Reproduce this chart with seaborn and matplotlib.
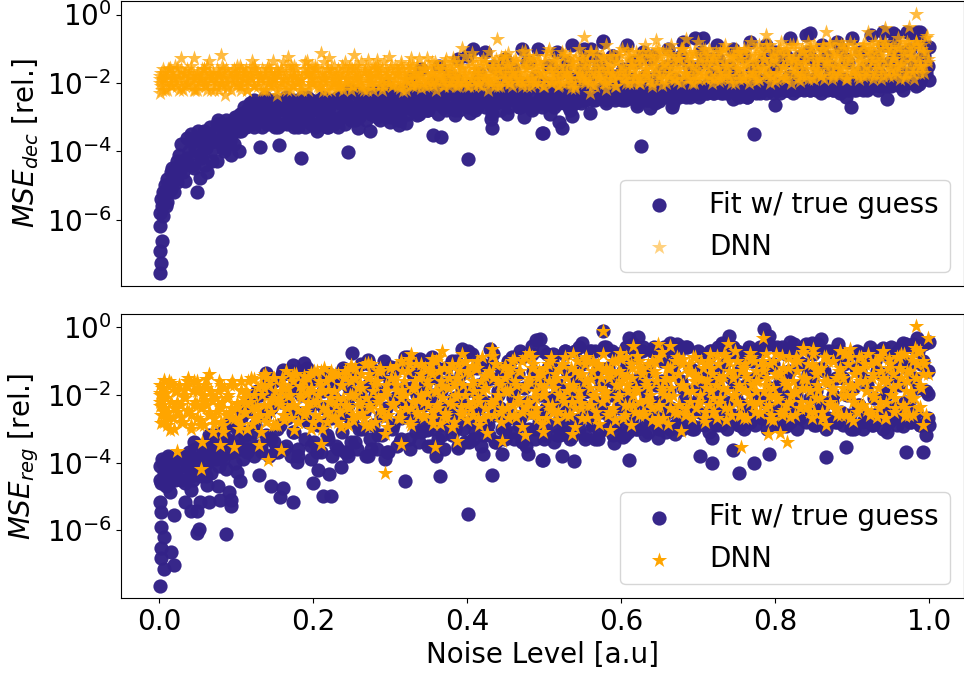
import numpy as np
import matplotlib
matplotlib.use("Agg")
import matplotlib.pyplot as plt
import seaborn as sns

# noise levels shared by the main band of every series
noise = [
 .002,.004,.006,.009,.012,.015,.019,.023,.028,.033,
 .037,.041,.046,.049,.053,.058,.061,.065,.069,.072,
 .077,.080,.083,.088,.092,.095,.101,.104,.107,.112,
 .116,.121,.124,.127,.133,.136,.140,.145,.148,.151,
 .157,.160,.163,.168,.173,.176,.180,.183,.189,.192,
 .197,.200,.205,.208,.212,.217,.220,.223,.229,.232,
 .236,.241,.244,.248,.252,.255,.261,.264,.268,.273,
 .276,.281,.284,.287,.293,.296,.301,.304,.308,.313,
 .316,.320,.325,.328,.333,.336,.341,.344,.348,.353,
 .356,.361,.364,.368,.372,.377,.380,.385,.388,.392,
 .397,.400,.405,.408,.413,.416,.421,.424,.428,.433,
 .436,.441,.444,.449,.452,.456,.461,.464,.469,.472,
 .477,.480,.484,.489,.492,.497,.500,.505,.508,.512,
 .517,.520,.525,.528,.533,.536,.540,.545,.548,.553,
 .556,.561,.564,.569,.572,.577,.580,.585,.588,.592,
 .597,.600,.605,.608,.613,.616,.621,.624,.629,.632,
 .636,.641,.644,.648,.653,.656,.661,.664,.668,.673,
 .676,.681,.684,.689,.692,.696,.701,.704,.709,.712,
 .717,.720,.725,.728,.732,.737,.740,.745,.748,.753,
 .756,.761,.764,.768,.773,.776,.781,.784,.789,.792,
 .797,.800,.804,.809,.812,.817,.820,.825,.828,.833,
 .836,.840,.845,.848,.853,.856,.861,.864,.869,.872,
 .876,.881,.884,.889,.892,.897,.900,.905,.908,.912,
 .917,.920,.925,.928,.933,.936,.941,.944,.948,.953,
 .956,.961,.964,.969,.972,.977,.980,.984,.989,.992,
]
noise_b = [
 .001,.003,.005,.008,.010,.013,.016,.018,.021,.024,
 .026,.029,.031,.034,.036,.039,.042,.044,.047,.050,
 .051,.054,.056,.059,.060,.063,.066,.068,.070,.074,
 .075,.078,.081,.082,.085,.087,.090,.093,.097,.099,
 .102,.105,.106,.109,.110,.113,.115,.118,.120,.123,
 .125,.129,.131,.134,.138,.139,.142,.143,.146,.149,
 .150,.153,.155,.158,.161,.165,.166,.170,.171,.174,
 .175,.178,.181,.185,.186,.190,.193,.194,.198,.199,
 .201,.203,.206,.210,.213,.215,.218,.221,.224,.225,
 .227,.230,.233,.235,.238,.239,.242,.245,.247,.249,
 .251,.254,.257,.258,.260,.263,.266,.269,.271,.274,
 .275,.278,.280,.283,.285,.289,.290,.292,.295,.298,
 .300,.303,.306,.309,.310,.314,.315,.318,.321,.323,
 .326,.329,.330,.334,.335,.338,.340,.343,.346,.349,
 .350,.354,.355,.358,.360,.363,.366,.369,.370,.373,
 .375,.378,.381,.383,.386,.389,.390,.393,.395,.398,
 .401,.403,.406,.409,.410,.414,.415,.418,.420,.423,
 .425,.429,.431,.434,.435,.438,.440,.443,.446,.448,
 .450,.453,.455,.458,.460,.463,.466,.468,.471,.474,
 .475,.478,.481,.483,.486,.488,.490,.493,.495,.499,
 .501,.503,.506,.509,.510,.513,.515,.518,.521,.523,
 .526,.529,.530,.534,.535,.538,.541,.543,.546,.549,
 .550,.554,.555,.558,.560,.563,.566,.568,.570,.574,
 .575,.578,.581,.583,.586,.589,.590,.593,.595,.598,
 .601,.603,.606,.609,.610,.614,.615,.618,.620,.623,
 .625,.628,.631,.633,.635,.638,.640,.643,.646,.649,
 .650,.654,.655,.658,.660,.663,.665,.669,.670,.674,
 .675,.678,.680,.683,.686,.688,.690,.694,.695,.698,
 .700,.703,.706,.708,.710,.714,.715,.718,.721,.723,
 .726,.729,.730,.734,.735,.738,.741,.743,.746,.749,
 .751,.754,.755,.758,.760,.763,.766,.769,.770,.774,
 .775,.778,.780,.783,.786,.788,.790,.794,.795,.798,
 .801,.803,.806,.808,.810,.814,.815,.818,.821,.823,
 .826,.829,.830,.834,.835,.838,.841,.843,.846,.849,
 .851,.854,.855,.858,.860,.863,.866,.868,.870,.874,
 .875,.878,.880,.883,.886,.888,.890,.894,.895,.898,
 .901,.903,.906,.909,.910,.914,.915,.918,.921,.923,
 .926,.929,.930,.934,.935,.938,.940,.943,.946,.949,
 .951,.954,.955,.958,.960,.963,.966,.968,.970,.974,
 .975,.978,.981,.983,.986,.988,.990,.994,.996,.999,
]

# log10 of the relative MSE
dec_fit = [
 -6.2,-5.6,-5.3,-5.6,-5.0,-5.1,-4.7,-4.9,-4.3,-4.4,
 -4.2,-3.7,-4.5,-3.6,-4.1,-3.4,-3.9,-3.5,-4.3,-3.7,
 -3.1,-3.6,-3.9,-3.2,-3.7,-3.5,-3.0,-3.4,-2.9,-3.3,
 -3.0,-2.6,-3.3,-2.8,-3.1,-2.5,-3.2,-2.7,-2.9,-3.3,
 -2.6,-3.2,-2.8,-2.5,-3.0,-2.7,-3.3,-2.6,-2.9,-2.4,
 -3.2,-2.7,-3.4,-2.5,-3.0,-2.8,-3.3,-2.6,-3.1,-2.4,
 -3.0,-2.5,-2.9,-2.2,-2.7,-3.1,-2.4,-2.8,-2.6,-2.3,
 -2.9,-2.3,-2.7,-3.1,-2.5,-2.1,-3.0,-2.6,-2.4,-3.1,
 -2.8,-2.2,-2.6,-1.9,-2.7,-2.4,-1.6,-2.5,-2.8,-2.1,
 -2.0,-2.6,-1.5,-2.4,-2.7,-1.8,-2.3,-2.8,-1.3,-2.5,
 -2.6,-1.2,-2.3,-1.0,-2.7,-1.7,-2.2,-1.1,-2.6,-2.9,
 -2.3,-1.6,-2.5,-1.3,-2.9,-2.1,-1.8,-2.4,-2.7,-1.0,
 -2.5,-1.4,-2.8,-2.1,-1.0,-2.7,-2.4,-1.5,-2.9,-2.2,
 -1.1,-2.6,-2.3,-1.6,-2.7,-0.9,-2.4,-2.0,-2.6,-1.3,
 -2.4,-1.0,-2.5,-2.2,-1.5,-0.8,-2.6,-2.3,-1.2,-2.5,
 -2.2,-1.7,-2.5,-0.9,-2.3,-1.4,-2.6,-2.1,-1.1,-2.5,
 -2.4,-1.2,-2.6,-2.2,-1.6,-2.4,-1.0,-2.3,-2.6,-1.3,
 -2.2,-0.8,-2.4,-1.5,-2.3,-0.7,-2.4,-1.1,-2.2,-2.3,
 -1.3,-2.3,-0.9,-2.2,-2.3,-1.6,-2.1,-1.0,-2.3,-2.4,
 -1.2,-2.2,-2.4,-0.8,-2.1,-1.5,-2.3,-2.2,-0.9,-2.1,
 -2.3,-1.1,-2.2,-2.0,-1.4,-2.2,-0.7,-2.1,-2.2,-1.2,
 -2.1,-0.6,-2.2,-1.3,-2.1,-2.2,-0.9,-2.1,-2.0,-1.5,
 -2.2,-0.8,-2.3,-2.1,-1.3,-2.2,-0.7,-2.2,-2.0,-1.1,
 -2.1,-2.2,-0.6,-2.0,-1.4,-2.1,-0.5,-1.9,-2.1,-1.0,
 -0.6,-1.9,-1.3,-2.0,-0.5,-1.8,-2.0,-0.5,-1.7,-1.2,
]
dec_fit_b = [
 -5.8,-5.4,-5.2,-5.0,-4.8,-5.2,-4.6,-4.9,-4.5,-4.3,
 -4.1,-3.8,-4.6,-4.3,-3.6,-4.0,-3.5,-4.4,-3.9,-3.7,
 -3.4,-4.2,-3.6,-3.8,-4.4,-3.5,-3.3,-4.0,-3.7,-3.4,
 -3.2,-3.7,-3.3,-3.6,-4.0,-3.1,-3.5,-3.2,-3.8,-3.0,
 -3.1,-2.9,-3.4,-3.0,-2.7,-3.3,-2.8,-2.6,-3.2,-2.5,
 -2.9,-3.1,-2.6,-3.3,-2.4,-2.8,-3.0,-2.7,-3.2,-2.5,
 -3.1,-2.8,-3.3,-2.6,-2.9,-2.4,-3.2,-3.0,-2.7,-2.5,
 -3.3,-2.6,-2.9,-3.1,-2.4,-3.3,-2.7,-3.0,-2.5,-2.8,
 -3.2,-3.3,-2.6,-2.9,-2.4,-3.1,-3.3,-2.7,-3.0,-2.5,
 -3.2,-2.8,-3.3,-2.6,-3.0,-2.4,-3.2,-2.7,-2.9,-3.1,
 -2.5,-2.9,-2.3,-2.7,-3.0,-2.4,-2.8,-3.1,-2.6,-2.3,
 -2.7,-2.9,-2.4,-3.0,-2.6,-2.2,-2.8,-2.5,-3.0,-2.3,
 -2.7,-2.9,-2.4,-2.6,-3.1,-2.2,-2.8,-2.5,-2.3,-2.9,
 -2.6,-2.3,-2.8,-2.1,-2.5,-2.9,-2.4,-2.7,-2.2,-2.6,
 -2.8,-2.3,-2.6,-2.0,-2.5,-2.9,-2.2,-2.7,-2.4,-2.8,
 -2.1,-2.6,-2.3,-2.7,-1.9,-2.5,-2.8,-2.2,-2.6,-2.4,
 -2.7,-2.1,-2.5,-2.3,-2.8,-1.8,-2.6,-2.2,-2.4,-2.7,
 -2.0,-2.5,-2.7,-1.5,-2.3,-2.6,-2.1,-2.8,-2.4,-1.7,
 -2.6,-2.2,-2.7,-2.4,-1.6,-2.5,-2.3,-2.7,-2.0,-2.6,
 -2.3,-1.4,-2.6,-2.1,-2.7,-2.4,-1.8,-2.5,-2.2,-2.6,
 -2.4,-2.0,-2.6,-1.5,-2.3,-2.7,-2.1,-2.5,-1.7,-2.4,
 -2.6,-2.2,-1.4,-2.5,-2.3,-1.9,-2.6,-2.4,-2.1,-2.5,
 -1.6,-2.3,-2.5,-2.1,-2.4,-1.8,-2.5,-2.2,-1.3,-2.4,
 -2.3,-2.1,-2.5,-1.7,-2.4,-2.2,-1.2,-2.4,-2.0,-2.3,
 -2.5,-1.6,-2.3,-2.1,-2.4,-1.9,-2.2,-2.5,-1.4,-2.3,
 -2.1,-2.4,-1.8,-2.3,-2.5,-1.3,-2.2,-2.4,-2.0,-2.3,
 -1.7,-2.4,-2.2,-2.3,-1.5,-2.4,-2.1,-2.3,-1.9,-2.2,
 -2.4,-1.2,-2.3,-2.1,-2.2,-1.8,-2.3,-2.2,-1.6,-2.3,
 -2.1,-2.3,-1.4,-2.2,-2.3,-2.0,-2.2,-1.7,-2.3,-2.1,
 -1.3,-2.2,-2.3,-1.9,-2.1,-2.3,-1.5,-2.2,-2.0,-2.3,
 -1.8,-2.2,-2.1,-2.3,-1.2,-2.2,-2.0,-2.3,-1.6,-2.2,
 -2.3,-1.9,-2.1,-2.2,-1.3,-2.3,-2.1,-1.7,-2.2,-2.0,
 -1.5,-2.2,-2.3,-2.0,-2.1,-1.2,-2.2,-1.8,-2.1,-2.3,
 -2.0,-1.4,-2.2,-2.1,-1.7,-2.2,-2.0,-1.1,-2.2,-2.1,
 -1.9,-2.2,-1.5,-2.1,-2.3,-2.0,-1.2,-2.2,-1.8,-2.1,
 -2.2,-1.6,-2.0,-2.2,-1.0,-2.1,-1.9,-2.2,-1.4,-2.1,
 -2.0,-2.2,-1.7,-2.1,-1.1,-2.0,-2.2,-1.5,-2.1,-1.9,
 -2.1,-1.2,-2.0,-2.2,-1.7,-2.0,-0.9,-2.1,-1.9,-1.4,
 -2.1,-1.8,-0.8,-2.0,-1.5,-2.1,-1.9,-1.1,-2.0,-1.7,
 -1.0,-1.9,-1.4,-2.1,-1.6,-0.8,-1.9,-1.2,-1.7,-1.5,
]
dec_dnn = [
 -1.90,-2.20,-1.70,-2.00,-1.60,-2.10,-1.85,-1.55,-2.15,-1.75,
 -2.05,-1.65,-2.20,-1.80,-1.95,-1.60,-2.10,-1.70,-1.90,-2.20,
 -1.75,-2.00,-1.60,-2.15,-1.85,-1.65,-2.05,-1.80,-2.20,-1.70,
 -1.95,-1.55,-2.10,-1.75,-1.90,-2.20,-1.60,-1.85,-2.00,-1.70,
 -2.15,-1.65,-1.90,-1.50,-2.05,-1.80,-1.95,-2.20,-1.60,-1.75,
 -2.00,-1.70,-1.55,-2.15,-1.85,-1.95,-1.60,-2.10,-1.75,-1.90,
 -2.05,-1.60,-1.85,-1.50,-2.10,-1.70,-1.95,-2.15,-1.65,-1.80,
 -2.00,-1.55,-1.80,-2.10,-1.65,-1.90,-1.50,-2.05,-1.75,-2.15,
 -1.60,-1.90,-1.45,-2.05,-1.70,-1.85,-2.15,-1.55,-1.95,-1.70,
 -2.05,-1.50,-1.80,-1.95,-1.40,-2.10,-1.65,-1.85,-2.00,-1.55,
 -1.75,-2.10,-1.40,-1.90,-1.60,-2.05,-1.30,-1.80,-1.95,-1.50,
 -2.10,-1.60,-1.25,-1.85,-1.45,-2.00,-1.70,-1.35,-1.90,-2.10,
 -1.55,-1.20,-1.85,-2.00,-1.40,-1.70,-2.10,-1.10,-1.60,-1.90,
 -1.35,-2.05,-1.70,-1.15,-1.85,-1.50,-2.15,-1.25,-1.75,-1.95,
 -1.40,-1.10,-2.05,-1.60,-1.85,-1.25,-1.95,-1.45,-1.75,-2.10,
 -1.20,-1.65,-1.90,-1.05,-1.50,-2.00,-1.35,-1.80,-1.10,-1.60,
 -1.95,-1.25,-1.70,-1.05,-2.05,-1.45,-1.85,-1.15,-1.60,-1.95,
 -1.30,-1.00,-1.75,-1.50,-2.00,-1.15,-1.65,-1.90,-1.05,-1.40,
 -1.85,-1.20,-1.60,-1.95,-1.05,-1.50,-1.80,-1.25,-2.00,-1.10,
 -1.55,-1.85,-1.00,-1.40,-1.70,-1.95,-1.15,-1.55,-0.90,-1.75,
 -1.30,-1.95,-1.05,-1.60,-1.85,-1.20,-0.90,-1.70,-1.45,-1.95,
 -1.10,-1.60,-0.95,-1.85,-1.30,-1.65,-1.00,-1.90,-1.40,-0.85,
 -1.75,-1.15,-1.55,-0.90,-1.90,-1.25,-1.65,-1.05,-1.80,-1.35,
 -0.85,-1.70,-1.15,-1.90,-1.40,-0.80,-1.60,-1.00,-1.80,-1.30,
 -1.65,-0.95,-1.45,-1.85,-0.80,-1.25,-1.70,-0.90,-1.50,-1.10,
]
dec_dnn_b = [
 -1.8,-2.1,-1.6,-1.9,-2.2,-1.7,-2.0,-1.8,-1.5,-2.1,
 -1.9,-1.6,-2.2,-1.7,-2.0,-1.8,-1.5,-2.1,-1.9,-2.2,
 -1.7,-2.0,-1.6,-1.8,-2.1,-1.5,-1.9,-2.2,-1.7,-2.0,
 -1.6,-1.8,-2.1,-1.5,-1.9,-2.0,-1.7,-2.2,-1.6,-1.8,
 -2.0,-1.5,-2.1,-1.7,-1.9,-1.6,-2.2,-1.8,-2.0,-1.5,
 -1.7,-2.1,-1.9,-1.6,-1.8,-2.2,-1.5,-2.0,-1.7,-1.9,
 -2.1,-1.6,-1.8,-2.0,-1.4,-1.9,-2.2,-1.7,-1.5,-2.1,
 -1.8,-1.6,-2.0,-1.9,-2.2,-1.4,-1.7,-2.1,-1.8,-1.5,
 -2.0,-1.6,-1.9,-2.1,-1.7,-1.4,-2.2,-1.8,-1.6,-2.0,
 -1.5,-1.9,-2.1,-1.7,-1.8,-2.2,-1.4,-2.0,-1.6,-1.9,
 -2.1,-1.5,-1.8,-1.7,-2.0,-1.4,-2.2,-1.6,-1.9,-1.8,
 -2.1,-1.5,-2.0,-1.7,-1.6,-1.9,-2.2,-1.4,-1.8,-2.0,
 -1.6,-2.1,-1.5,-1.9,-1.7,-2.0,-1.4,-1.8,-2.2,-1.6,
 -1.9,-1.5,-2.1,-1.7,-2.0,-1.3,-1.8,-1.6,-2.1,-1.9,
 -1.5,-2.0,-1.7,-1.4,-2.2,-1.8,-1.6,-1.9,-2.1,-1.3,
 -1.7,-2.0,-1.5,-1.8,-2.1,-1.4,-1.9,-1.6,-2.0,-1.2,
 -1.8,-2.1,-1.5,-1.7,-1.3,-2.0,-1.9,-1.6,-2.1,-1.4,
 -1.8,-1.1,-2.0,-1.6,-1.9,-1.3,-2.1,-1.7,-1.5,-2.0,
 -1.2,-1.8,-1.6,-2.1,-1.4,-1.9,-1.7,-2.0,-1.1,-1.5,
 -1.8,-2.1,-1.3,-1.9,-1.6,-2.0,-1.2,-1.7,-1.5,-2.1,
 -1.4,-1.9,-1.0,-1.7,-2.0,-1.3,-1.6,-2.1,-1.8,-1.1,
 -1.5,-2.0,-1.7,-1.2,-1.9,-1.4,-2.1,-1.6,-1.0,-1.8,
 -1.3,-2.0,-1.5,-1.9,-1.1,-1.7,-2.1,-1.4,-1.8,-1.2,
 -1.6,-2.0,-0.9,-1.7,-1.5,-1.9,-1.2,-2.1,-1.4,-1.8,
 -1.0,-1.6,-2.0,-1.3,-1.8,-1.1,-1.5,-1.9,-1.7,-1.2,
 -2.0,-1.4,-0.9,-1.6,-1.8,-1.2,-2.1,-1.5,-1.0,-1.9,
 -1.3,-1.7,-1.1,-2.0,-1.5,-1.8,-0.9,-1.4,-1.9,-1.2,
 -1.6,-2.0,-1.0,-1.7,-1.3,-1.9,-1.1,-1.5,-2.0,-1.8,
 -0.8,-1.4,-1.7,-1.2,-1.9,-1.0,-1.6,-2.0,-1.3,-1.5,
 -1.8,-1.1,-1.9,-1.4,-0.9,-1.7,-1.2,-2.0,-1.5,-1.0,
 -1.6,-1.9,-1.3,-1.8,-1.1,-1.4,-2.0,-0.8,-1.7,-1.2,
 -1.5,-1.9,-0.9,-1.6,-1.3,-1.8,-1.0,-2.0,-1.4,-1.1,
 -1.7,-1.9,-1.2,-0.8,-1.5,-1.8,-1.0,-1.4,-2.0,-1.3,
 -1.6,-0.9,-1.9,-1.1,-1.7,-1.4,-1.8,-0.8,-1.2,-1.5,
 -1.9,-1.0,-1.6,-1.3,-1.8,-0.9,-1.4,-1.7,-1.1,-1.9,
 -1.2,-1.5,-0.8,-1.8,-1.3,-1.6,-1.0,-1.9,-1.4,-0.8,
 -1.7,-1.1,-1.5,-1.9,-1.2,-0.9,-1.6,-1.8,-1.3,-1.0,
 -1.4,-1.8,-0.8,-1.6,-1.1,-1.9,-1.3,-0.9,-1.7,-1.5,
 -1.0,-1.8,-1.2,-1.5,-0.7,-1.9,-1.4,-1.1,-1.7,-0.9,
 -1.6,-1.2,-1.9,-0.8,-1.4,-1.7,-1.0,-1.5,-0.7,-1.3,
]
dec_dnn_c = [
 -2.0,-1.7,-1.9,-2.2,-1.8,-1.6,-2.1,-1.9,-2.0,-1.7,
 -2.2,-1.8,-1.9,-2.1,-1.6,-2.0,-1.8,-1.9,-2.2,-1.7,
 -2.1,-1.9,-1.8,-1.6,-2.0,-2.2,-1.7,-1.9,-1.8,-2.1,
 -1.9,-2.2,-1.7,-2.0,-1.8,-1.6,-2.1,-1.9,-2.0,-1.7,
 -1.8,-2.1,-1.6,-2.0,-1.9,-1.7,-2.2,-1.8,-1.9,-2.1,
 -1.6,-2.0,-1.8,-2.2,-1.7,-1.9,-2.0,-1.6,-2.1,-1.8,
 -1.9,-2.2,-1.7,-1.6,-2.0,-1.8,-2.1,-1.9,-2.2,-1.7,
 -1.5,-2.0,-1.8,-1.9,-2.1,-1.7,-1.6,-2.2,-1.9,-2.0,
 -1.8,-1.5,-2.1,-1.7,-1.9,-2.0,-1.6,-1.8,-2.2,-1.7,
 -2.0,-1.9,-1.6,-2.1,-1.5,-1.8,-2.0,-1.7,-1.9,-2.2,
 -1.6,-1.9,-2.0,-1.5,-1.8,-2.1,-1.7,-1.9,-1.6,-2.0,
 -1.8,-2.2,-1.7,-1.5,-1.9,-2.0,-1.6,-2.1,-1.8,-1.7,
 -2.0,-1.8,-1.9,-1.6,-2.1,-1.5,-1.7,-2.0,-1.9,-1.8,
 -1.6,-2.0,-1.8,-2.1,-1.5,-1.7,-1.9,-2.0,-1.6,-1.8,
 -2.1,-1.7,-1.4,-1.9,-2.0,-1.6,-1.8,-2.1,-1.5,-1.7,
 -1.9,-1.6,-2.0,-1.4,-1.8,-2.1,-1.7,-1.5,-1.9,-2.0,
 -1.6,-1.8,-1.9,-2.1,-1.6,-1.7,-2.0,-1.4,-1.8,-1.9,
 -1.5,-2.0,-1.7,-1.8,-1.4,-1.9,-1.6,-2.1,-1.7,-1.3,
 -1.9,-1.5,-2.0,-1.7,-1.8,-1.3,-1.6,-1.9,-2.0,-1.4,
 -1.7,-1.9,-1.5,-2.1,-1.3,-1.8,-1.6,-2.0,-1.4,-1.7,
 -1.9,-1.2,-1.6,-2.0,-1.8,-1.4,-1.7,-1.9,-1.5,-2.0,
 -1.2,-1.7,-1.8,-1.4,-2.0,-1.6,-1.3,-1.9,-1.7,-1.5,
 -1.9,-1.2,-1.8,-1.6,-2.0,-1.4,-1.7,-1.1,-1.9,-1.5,
 -1.8,-1.3,-2.0,-1.6,-1.2,-1.7,-1.9,-1.4,-1.8,-1.1,
 -1.5,-1.9,-1.7,-1.2,-2.0,-1.4,-1.6,-1.8,-1.1,-1.5,
 -1.9,-1.3,-1.7,-1.8,-1.1,-1.5,-2.0,-1.4,-1.6,-1.2,
 -1.8,-1.5,-1.9,-1.1,-1.4,-1.7,-1.2,-1.9,-1.6,-1.3,
 -1.8,-1.0,-1.5,-1.7,-1.9,-1.2,-1.4,-1.8,-1.1,-1.6,
 -1.9,-1.3,-1.0,-1.7,-1.5,-1.8,-1.2,-1.4,-1.9,-1.1,
 -1.6,-1.3,-1.8,-1.0,-1.7,-1.5,-1.9,-1.2,-1.4,-1.8,
 -1.1,-1.6,-1.3,-1.9,-1.0,-1.5,-1.7,-1.2,-1.8,-1.4,
 -1.0,-1.6,-1.9,-1.1,-1.3,-1.7,-1.5,-0.9,-1.8,-1.2,
 -1.4,-1.7,-1.0,-1.8,-1.5,-1.1,-1.9,-1.3,-1.6,-0.9,
 -1.2,-1.7,-1.4,-1.8,-1.0,-1.5,-1.3,-1.9,-1.1,-1.6,
 -0.9,-1.4,-1.7,-1.2,-1.8,-1.0,-1.5,-1.3,-0.9,-1.6,
 -1.8,-1.1,-1.4,-1.7,-0.9,-1.2,-1.5,-1.8,-1.0,-1.3,
 -1.6,-0.9,-1.7,-1.2,-1.4,-1.8,-1.0,-1.5,-1.1,-1.6,
 -0.9,-1.3,-1.7,-1.0,-1.5,-1.2,-1.8,-0.8,-1.4,-1.1,
 -1.6,-0.9,-1.3,-1.7,-1.0,-1.5,-0.8,-1.2,-1.8,-1.1,
 -1.4,-1.0,-1.6,-0.8,-1.3,-1.5,-0.9,-1.7,-1.1,-1.4,
]
reg_fit = [
 -4.5,-3.9,-4.3,-4.7,-3.8,-4.2,-4.4,-3.9,-4.5,-3.8,
 -4.0,-4.4,-3.4,-3.9,-4.2,-3.7,-4.4,-3.2,-3.9,-3.5,
 -3.6,-3.1,-3.9,-3.3,-2.8,-3.7,-3.0,-3.5,-2.4,-3.2,
 -3.6,-2.2,-3.1,-1.9,-3.5,-2.6,-1.5,-3.3,-2.0,-3.7,
 -2.9,-1.4,-3.6,-2.3,-1.3,-3.1,-3.8,-1.8,-2.7,-1.2,
 -3.5,-2.1,-3.7,-1.5,-2.9,-1.4,-3.3,-2.5,-1.7,-3.6,
 -2.2,-1.3,-3.7,-2.7,-1.5,-3.4,-1.9,-3.0,-2.4,-1.1,
 -3.6,-2.0,-3.2,-1.4,-2.6,-3.7,-1.6,-2.9,-1.2,-3.4,
 -2.2,-1.1,-3.3,-1.8,-2.7,-1.0,-3.1,-2.3,-1.5,-3.5,
 -2.0,-1.2,-2.9,-3.2,-1.7,-2.5,-1.0,-3.0,-2.2,-1.4,
 -3.4,-1.9,-2.8,-3.3,-1.2,-2.4,-3.2,-1.6,-2.9,-1.1,
 -3.4,-2.0,-1.4,-3.0,-2.5,-1.0,-3.3,-1.8,-2.7,-0.9,
 -3.5,-2.2,-0.8,-3.0,-1.5,-2.6,-3.3,-1.2,-2.1,-0.8,
 -3.2,-1.7,-2.8,-0.7,-2.3,-3.1,-1.4,-0.6,-2.7,-3.3,
 -1.9,-0.7,-2.9,-1.3,-3.1,-2.2,-0.6,-2.6,-1.6,-2.9,
 -0.8,-2.0,-3.2,-1.1,-2.5,-0.5,-3.0,-1.7,-0.6,-2.8,
 -1.3,-2.2,-0.7,-2.9,-1.6,-0.6,-2.5,-3.0,-1.1,-0.5,
 -2.7,-1.8,-0.6,-2.4,-3.0,-1.3,-2.1,-0.9,-2.8,-1.6,
 -0.7,-2.5,-2.9,-1.2,-0.5,-2.2,-2.7,-0.6,-1.7,-2.9,
 -1.0,-2.4,-0.7,-2.8,-1.5,-2.1,-0.6,-2.7,-1.2,-0.5,
 -2.6,-1.8,-2.9,-0.6,-2.3,-1.4,-2.8,-0.5,-2.0,-2.7,
 -1.1,-0.5,-2.5,-1.6,-2.9,-0.5,-2.2,-1.3,-2.7,-0.7,
 -2.0,-2.8,-0.7,-1.5,-2.6,-0.8,-2.9,-1.2,-2.3,-0.9,
 -2.7,-1.7,-0.8,-2.9,-1.3,-0.7,-2.5,-2.0,-2.8,-0.9,
 -1.5,-2.7,-0.6,-2.2,-1.2,-2.8,-0.5,-1.8,-2.9,-1.0,
]
reg_fit_b = [
 -4.1,-4.6,-4.0,-4.4,-3.9,-4.6,-4.2,-4.0,-4.5,-3.9,
 -4.3,-4.1,-3.8,-4.6,-4.0,-3.7,-4.3,-4.5,-3.6,-4.1,
 -3.9,-4.4,-3.5,-4.2,-3.7,-4.0,-3.3,-4.3,-3.6,-3.9,
 -3.2,-4.1,-3.5,-3.8,-3.0,-4.2,-3.4,-3.7,-2.9,-4.0,
 -3.3,-3.6,-2.7,-3.9,-3.1,-2.5,-3.7,-3.4,-2.2,-3.8,
 -2.9,-3.5,-2.0,-3.7,-2.6,-3.2,-1.7,-3.8,-2.4,-3.4,
 -1.6,-3.0,-3.7,-2.2,-1.4,-3.5,-2.7,-1.9,-3.8,-3.1,
 -1.5,-2.5,-3.6,-2.0,-1.3,-3.3,-2.8,-1.7,-3.9,-2.3,
 -3.4,-1.5,-2.9,-3.7,-1.9,-2.4,-3.2,-1.4,-2.7,-3.8,
 -2.1,-3.5,-1.6,-2.6,-3.1,-1.2,-3.7,-2.3,-1.8,-3.4,
 -2.8,-1.4,-3.6,-2.0,-3.0,-1.1,-2.5,-3.8,-1.7,-3.3,
 -2.2,-2.9,-1.3,-3.6,-1.9,-2.6,-3.2,-1.0,-2.4,-3.7,
 -1.6,-3.0,-2.1,-3.5,-1.2,-2.7,-3.3,-1.8,-2.3,-0.9,
 -3.6,-2.5,-1.4,-3.1,-2.0,-3.4,-1.1,-2.8,-1.7,-3.5,
 -2.2,-0.9,-3.0,-2.6,-1.5,-3.3,-1.9,-2.4,-3.6,-1.2,
 -2.9,-1.6,-3.2,-2.1,-1.0,-3.5,-2.7,-1.8,-3.0,-2.3,
 -1.3,-3.4,-0.8,-2.5,-3.1,-1.7,-2.0,-3.5,-1.1,-2.8,
 -2.2,-3.2,-1.5,-0.8,-2.6,-3.4,-1.9,-2.4,-3.0,-1.2,
 -3.3,-1.6,-2.7,-0.9,-2.1,-3.1,-1.4,-2.9,-3.4,-1.8,
 -2.3,-0.8,-3.0,-2.5,-1.3,-3.3,-1.7,-2.8,-2.0,-0.7,
 -3.2,-2.4,-1.5,-2.9,-1.0,-3.4,-2.2,-1.8,-2.7,-3.1,
 -0.8,-2.5,-1.3,-3.3,-2.0,-2.8,-0.7,-1.6,-3.0,-2.3,
 -1.1,-3.2,-1.9,-2.6,-0.7,-2.9,-1.4,-2.2,-3.3,-1.7,
 -2.5,-0.6,-3.0,-1.2,-2.7,-2.0,-3.2,-0.8,-1.6,-2.4,
 -2.9,-1.3,-0.6,-3.1,-2.2,-1.8,-2.7,-0.9,-3.0,-1.5,
 -2.4,-0.7,-3.2,-2.0,-1.2,-2.8,-2.5,-0.6,-1.7,-3.0,
 -2.2,-1.0,-2.7,-3.1,-0.7,-1.9,-2.4,-1.4,-2.9,-0.8,
 -2.6,-1.6,-3.0,-2.1,-0.6,-2.8,-1.2,-2.3,-3.0,-1.8,
 -0.7,-2.5,-1.4,-2.9,-2.0,-0.9,-3.1,-2.2,-1.6,-2.7,
 -0.6,-1.9,-2.9,-1.1,-2.4,-3.0,-0.8,-1.5,-2.6,-2.1,
 -0.7,-2.8,-1.3,-2.3,-3.0,-1.7,-0.6,-2.5,-1.0,-2.9,
 -2.0,-0.7,-1.4,-2.7,-2.2,-0.5,-3.0,-1.8,-2.4,-1.1,
 -2.8,-0.6,-1.6,-2.5,-2.9,-0.8,-2.0,-1.3,-2.7,-0.7,
 -2.3,-3.0,-1.0,-1.7,-2.6,-0.6,-2.8,-1.4,-2.1,-0.8,
 -2.9,-1.9,-0.6,-2.4,-1.2,-2.7,-3.0,-0.7,-1.6,-2.2,
 -0.9,-2.8,-1.5,-0.7,-2.5,-2.9,-1.1,-2.0,-0.8,-2.6,
 -1.8,-3.0,-0.7,-2.3,-1.3,-2.8,-0.9,-1.6,-2.6,-0.6,
 -2.9,-2.1,-1.0,-0.7,-2.5,-1.4,-3.0,-0.8,-1.9,-2.7,
 -0.6,-1.2,-2.4,-2.9,-0.7,-1.7,-2.6,-1.0,-0.5,-2.2,
 -2.8,-0.6,-1.5,-2.5,-0.7,-2.9,-1.1,-0.5,-1.9,-2.7,
]
reg_dnn = [
 -1.70,-2.30,-2.80,-1.95,-2.50,-1.65,-3.00,-2.20,-2.65,-1.85,
 -2.45,-2.90,-1.60,-2.30,-2.75,-2.05,-1.55,-2.60,-2.15,-2.85,
 -1.90,-2.40,-3.10,-2.10,-1.70,-2.70,-2.25,-3.00,-1.85,-2.50,
 -2.00,-2.85,-1.55,-2.35,-3.10,-1.80,-2.60,-2.15,-1.50,-2.90,
 -2.30,-1.70,-2.75,-2.05,-1.45,-3.05,-2.45,-1.75,-2.60,-1.95,
 -1.35,-2.80,-2.20,-1.60,-3.00,-2.50,-1.85,-1.30,-2.65,-2.10,
 -2.95,-1.50,-2.35,-1.20,-2.75,-2.00,-1.65,-2.55,-1.10,-2.30,
 -2.85,-1.70,-1.30,-2.45,-2.05,-2.95,-1.50,-2.25,-1.15,-2.70,
 -1.85,-2.40,-0.95,-2.90,-1.60,-2.15,-1.10,-2.65,-1.95,-1.30,
 -2.85,-2.30,-0.90,-1.75,-2.55,-1.25,-2.95,-2.05,-1.50,-2.35,
 -1.05,-2.75,-1.70,-2.20,-1.20,-2.90,-1.90,-1.45,-2.60,-0.85,
 -2.15,-1.60,-2.80,-1.15,-2.40,-1.85,-0.95,-2.65,-1.30,-2.95,
 -1.75,-2.25,-0.90,-2.55,-1.50,-2.85,-2.00,-1.10,-2.45,-1.65,
 -2.75,-1.25,-2.10,-0.90,-2.60,-1.80,-2.95,-1.40,-2.25,-0.95,
 -2.70,-1.55,-2.05,-1.15,-2.85,-0.80,-1.95,-2.50,-1.30,-2.75,
 -1.70,-0.95,-2.30,-1.45,-2.90,-2.00,-0.85,-2.60,-1.25,-2.15,
 -1.80,-2.75,-1.05,-2.35,-0.75,-1.60,-2.85,-1.20,-2.05,-2.55,
 -0.95,-1.75,-2.40,-1.35,-2.70,-0.90,-2.20,-1.55,-2.80,-1.10,
 -1.90,-2.50,-0.85,-2.25,-1.45,-2.75,-1.05,-2.00,-0.70,-2.60,
 -1.30,-1.85,-2.70,-0.95,-2.30,-1.60,-2.55,-1.15,-0.80,-2.05,
 -2.75,-1.40,-2.15,-0.85,-2.45,-1.70,-2.65,-1.05,-1.95,-2.40,
 -0.75,-1.55,-2.25,-2.70,-1.20,-1.85,-2.50,-0.90,-1.65,-2.30,
 -1.00,-2.60,-1.45,-2.05,-0.80,-2.70,-1.75,-1.25,-2.35,-0.90,
 -1.60,-2.45,-1.10,-2.00,-2.65,-0.85,-1.50,-2.25,-0.95,-1.80,
 -2.40,-1.20,-0.80,-2.60,-1.60,-2.10,-1.00,-0.70,-2.35,-1.40,
]
reg_dnn_b = [
 -2.0,-2.6,-1.8,-2.4,-2.9,-1.6,-2.2,-2.7,-1.9,-2.5,
 -1.7,-2.3,-2.8,-2.1,-1.6,-2.5,-3.0,-1.9,-2.2,-2.7,
 -1.8,-2.4,-2.0,-2.9,-1.7,-2.3,-2.6,-1.9,-3.1,-2.1,
 -2.5,-1.6,-2.8,-2.2,-1.8,-2.6,-2.0,-2.4,-1.7,-2.7,
 -2.3,-2.9,-1.6,-2.1,-2.5,-1.9,-3.0,-2.2,-1.5,-2.7,
 -2.4,-1.8,-2.6,-2.0,-1.4,-2.8,-2.3,-1.7,-2.5,-2.1,
 -1.5,-2.9,-2.2,-1.9,-2.6,-1.3,-2.4,-2.0,-2.7,-1.6,
 -2.3,-1.4,-2.8,-2.1,-1.8,-2.5,-1.5,-2.2,-3.0,-1.9,
 -1.3,-2.6,-2.0,-1.7,-2.4,-1.2,-2.8,-2.2,-1.5,-2.7,
 -1.9,-2.3,-1.4,-2.5,-1.7,-2.1,-1.3,-2.9,-2.4,-1.6,
 -2.0,-1.2,-2.6,-1.8,-2.3,-1.4,-2.7,-2.1,-1.5,-2.4,
 -1.1,-1.9,-2.8,-1.6,-2.2,-1.3,-2.5,-2.0,-1.7,-2.6,
 -1.2,-2.3,-1.5,-1.9,-2.7,-1.0,-2.1,-1.6,-2.4,-1.3,
 -2.8,-1.8,-2.2,-1.1,-2.5,-1.5,-2.0,-2.6,-1.2,-1.7,
 -2.3,-1.4,-2.7,-1.9,-1.0,-2.4,-1.6,-2.1,-1.2,-2.6,
 -1.8,-2.2,-1.1,-2.8,-1.5,-2.0,-1.3,-2.5,-1.7,-1.0,
 -2.3,-1.4,-2.6,-1.9,-1.2,-2.1,-2.7,-1.6,-0.9,-2.4,
 -1.8,-1.3,-2.2,-1.5,-2.6,-1.1,-2.0,-1.7,-2.4,-1.2,
 -1.9,-2.7,-1.4,-1.0,-2.3,-1.6,-2.1,-1.3,-2.5,-1.8,
 -0.9,-2.2,-1.5,-2.6,-1.1,-1.9,-2.4,-1.3,-1.7,-2.0,
 -1.2,-2.7,-1.6,-0.9,-2.3,-1.8,-1.4,-2.5,-2.0,-1.1,
 -2.2,-1.5,-1.9,-2.6,-1.2,-1.7,-2.4,-1.0,-2.1,-1.4,
 -2.7,-1.6,-0.9,-2.3,-1.8,-1.3,-2.0,-2.5,-1.1,-1.5,
 -2.2,-1.9,-1.2,-2.6,-1.4,-1.0,-2.4,-1.7,-2.1,-1.3,
 -1.6,-2.7,-0.9,-1.9,-2.3,-1.2,-1.5,-2.5,-1.8,-1.0,
 -2.2,-1.4,-2.6,-1.7,-1.1,-2.0,-2.4,-1.3,-1.6,-2.3,
 -0.9,-1.9,-2.7,-1.5,-1.2,-2.1,-1.8,-2.5,-1.0,-1.4,
 -2.3,-1.7,-1.1,-2.6,-1.9,-1.3,-2.2,-0.9,-1.6,-2.4,
 -1.5,-2.0,-1.2,-2.7,-1.8,-1.0,-2.3,-1.4,-2.5,-1.7,
 -1.1,-2.1,-1.6,-0.8,-2.4,-1.9,-1.3,-2.6,-1.5,-2.2,
 -1.0,-1.8,-2.3,-1.2,-2.7,-1.4,-2.0,-0.9,-1.7,-2.5,
 -1.3,-1.6,-2.2,-1.0,-1.9,-2.4,-1.5,-1.1,-2.6,-1.8,
 -0.8,-2.1,-1.4,-2.5,-1.2,-1.7,-2.3,-0.9,-2.0,-1.6,
 -2.6,-1.3,-1.0,-2.2,-1.8,-1.5,-2.4,-1.1,-1.9,-0.8,
 -2.5,-1.4,-1.7,-2.1,-1.2,-2.7,-0.9,-1.6,-2.3,-1.9,
 -1.0,-2.4,-1.5,-1.3,-2.6,-1.8,-0.8,-2.0,-1.1,-1.7,
 -2.2,-1.4,-2.5,-0.9,-1.6,-2.3,-1.2,-1.9,-0.8,-2.6,
 -1.5,-2.1,-1.0,-1.8,-2.4,-1.3,-0.7,-2.7,-1.6,-1.1,
 -2.0,-1.4,-2.5,-0.9,-1.7,-1.2,-2.3,-0.8,-1.9,-2.6,
 -1.3,-0.9,-2.1,-1.5,-2.4,-0.7,-1.8,-1.1,-2.6,-1.4,
]
reg_dnn_c = [
 -2.2,-1.8,-2.5,-2.1,-2.7,-1.7,-2.4,-1.9,-2.8,-2.0,
 -1.7,-2.6,-2.3,-1.9,-2.9,-2.2,-1.8,-2.5,-2.0,-2.7,
 -2.3,-1.7,-2.9,-2.1,-2.5,-1.6,-2.4,-2.7,-1.9,-2.2,
 -1.6,-2.4,-2.0,-2.7,-1.7,-2.3,-1.5,-2.5,-2.9,-1.9,
 -2.1,-1.5,-2.6,-1.8,-2.3,-1.4,-2.8,-2.0,-1.6,-2.4,
 -1.8,-2.2,-1.3,-2.7,-1.9,-1.6,-2.5,-2.1,-1.4,-2.8,
 -1.7,-2.3,-1.3,-2.0,-2.6,-1.5,-2.2,-1.8,-2.9,-1.4,
 -2.4,-1.6,-2.1,-1.2,-2.7,-1.9,-1.5,-2.3,-1.7,-2.5,
 -1.3,-2.0,-1.1,-2.4,-1.8,-2.6,-1.4,-2.2,-1.6,-1.1,
 -2.5,-1.9,-1.3,-2.1,-2.7,-1.5,-2.3,-1.7,-1.1,-2.6,
 -2.0,-1.3,-2.4,-1.6,-1.0,-2.2,-2.7,-1.8,-1.4,-2.3,
 -1.1,-2.0,-2.5,-1.5,-1.9,-1.2,-2.6,-1.7,-2.2,-1.0,
 -2.4,-1.6,-1.2,-2.1,-2.7,-1.4,-1.8,-2.3,-1.0,-2.5,
 -1.5,-2.0,-1.1,-2.6,-1.7,-2.2,-1.3,-1.9,-2.4,-1.1,
 -1.6,-2.3,-1.0,-2.7,-1.8,-1.3,-2.1,-1.5,-2.5,-1.0,
 -2.0,-1.4,-2.6,-1.7,-1.1,-2.3,-1.9,-1.2,-2.5,-1.6,
 -2.2,-1.0,-1.4,-2.7,-1.8,-2.0,-1.2,-2.4,-1.5,-0.9,
 -2.3,-1.7,-2.6,-1.1,-1.9,-1.4,-2.2,-1.0,-2.5,-1.6,
 -1.2,-2.1,-2.7,-1.5,-1.8,-0.9,-2.4,-1.3,-2.0,-1.7,
 -2.6,-1.1,-1.5,-2.2,-1.0,-1.9,-2.5,-1.3,-1.7,-2.3,
 -1.0,-2.0,-1.4,-2.6,-1.6,-1.2,-2.2,-1.9,-0.9,-2.4,
 -1.5,-1.8,-2.5,-1.1,-2.1,-1.3,-2.7,-1.6,-1.0,-2.2,
 -1.8,-2.4,-1.2,-1.5,-2.6,-0.9,-2.0,-1.7,-1.3,-2.3,
 -1.1,-1.9,-2.5,-1.4,-1.0,-2.2,-1.6,-2.7,-1.2,-1.8,
 -2.1,-0.9,-1.5,-2.4,-1.3,-1.9,-2.6,-1.1,-1.7,-1.0,
]

# isolated points read one by one
dec_fit_x = [.002,.003,.002,.004,.005,.010,.006,.019,.014,.017,.049,.034,.053,.063,.027,.076,.094,.104,.131,.156,
 .184,.246,.402,.356,.366,.274,.258,.433,.431,.312,.300,.321,.335,.348,.385,.404,.474,.497,.499,.524,
 .519,.537,.534,.560,.514,.626,.773,.621,.638,.666,.649,.690,.670,.745,.764,.800,.816,.834,.858,.892,
 .899,.921,.945,.967,.987,1.000,.995,1.000,.975,.988,.846,.577,.552,.706,.954]
dec_fit_y = [-7.56,-7.27,-6.91,-6.64,-5.89,-5.49,-5.27,-5.18,-4.95,-4.49,-5.18,-4.86,-4.79,-4.61,-4.54,-4.28,-4.10,-3.98,-3.88,-3.82,
 -4.21,-4.02,-4.23,-3.53,-3.57,-3.40,-3.32,-3.32,-3.06,-3.23,-3.13,-3.18,-2.95,-2.79,-2.93,-2.87,-3.00,-3.47,-3.47,-3.32,
 -3.13,-2.98,-2.79,-2.87,-2.59,-3.86,-3.50,-2.69,-2.74,-2.72,-2.54,-2.42,-2.40,-2.48,-2.42,-2.66,-2.20,-2.15,-2.15,-2.40,
 -2.72,-2.15,-2.46,-2.22,-2.03,-1.91,-1.52,-0.94,-0.55,-0.50,-0.55,-0.76,-1.01,-0.69,-0.55]
dec_dnn_x = [.001,.014,.029,.045,.065,.081,.101,.121,.148,.168,.192,.211,.221,.253,.272,.283,.299,.328,.348,.382,
 .394,.406,.439,.454,.475,.086,.153,.213,.233,.270,.317,.428,.552,.646,.685,.789,.867,.921,.943,.974,.983,.997,.560,.581,.624,.535]
dec_dnn_y = [-2.30,-1.57,-1.28,-1.28,-1.37,-1.18,-1.52,-1.37,-1.37,-1.23,-1.37,-1.13,-1.28,-1.18,-1.33,-1.33,-1.25,-1.28,-1.28,-1.28,
 -0.98,-1.13,-0.72,-1.13,-1.08,-2.35,-2.35,-2.25,-2.15,-2.20,-2.25,-2.20,-0.66,-0.74,-0.72,-0.60,-0.50,-0.50,-0.40,-0.35,0.02,-0.64,-2.30,-2.18,-2.00,-2.15]
reg_fit_x = [.002,.006,.020,.003,.016,.003,.007,.003,.050,.052,.087,.003,.002,.019,.014,.034,.041,.050,.053,.065,
 .079,.091,.093,.094,.008,.013,.042,.063,.077,.105,.101,.130,.146,.157,.174,.161,.200,.213,.223,.207,
 .221,.236,.319,.365,.433,.402,.360,.421,.445,.479,.497,.293,.272,.246,.179,.389,.348,.251,.272,.174,
 .189,.161,.139,.222,.237,.301,.320,.339,.393,.402,.430,.454,.469,.490,.484,.495,.577,.610,.622,.550,
 .527,.504,.566,.588,.640,.664,.680,.740,.731,.716,.770,.786,.793,.820,.848,.860,.882,.910,.941,.967,
 .984,1.000,.999,.999,.499,.524,.539,.610,.567,.591,.603,.635,.648,.670,.521,.536,.563,.703,.718,.718,
 .722,.745,.753,.773,.793,.753,.763,.694,.815,.866,.892,.899,.915,.930,.945,.945,.970,.993,.996,1.000,.967,.863,.887,.854,.824]
reg_fit_y = [-7.63,-7.14,-7.02,-6.82,-6.62,-6.52,-6.18,-5.90,-6.08,-5.96,-6.11,-5.47,-5.17,-5.54,-4.88,-5.17,-5.44,-5.44,-5.17,-5.15,
 -5.10,-4.88,-5.10,-5.29,-4.50,-3.87,-4.80,-4.65,-4.70,-4.55,-4.28,-4.38,-4.70,-5.02,-5.17,-4.75,-4.60,-4.97,-4.98,-4.21,
 -4.33,-4.13,-4.53,-4.39,-4.38,-5.51,-3.80,-3.74,-3.74,-3.74,-3.92,-3.89,-3.80,-3.82,-3.98,-3.57,-3.03,-0.78,-0.98,-1.11,
 -1.06,-1.26,-1.35,-1.50,-1.35,-1.18,-0.89,-0.96,-0.65,-0.71,-0.65,-1.01,-0.71,-0.39,-0.57,-0.37,-0.12,-0.32,-0.29,-0.47,
 -0.71,-0.81,-0.71,-0.71,-0.71,-0.47,-0.59,-0.27,-0.47,-0.71,-0.71,-0.07,-0.27,-0.45,-0.47,-0.35,-0.52,-0.76,-0.62,-0.47,
 -0.32,-0.45,-1.30,-1.99,-3.92,-3.82,-3.94,-3.92,-3.30,-3.42,-3.24,-3.10,-3.27,-3.16,-3.18,-3.23,-2.78,-3.80,-4.01,-3.29,
 -2.86,-3.64,-4.31,-4.01,-3.75,-2.88,-2.73,-2.93,-2.93,-3.85,-3.54,-3.01,-3.01,-2.78,-3.10,-2.58,-3.69,-3.70,-3.18,-2.90,-2.93,-2.34,-2.58,-2.83,-2.63]
reg_dnn_x = [.023,.054,.294,.359,.445,.387,.142,.056,.097,.079,.130,.158,.210,.315,.273,.293,.365,.426,.475,.006,
 .038,.065,.049,.001,.001,.003,.014,.135,.211,.188,.250,.272,.328,.367,.354,.393,.432,.480,.406,.577,
 .983,.999,.756,.678,.791,.806,.816,.499,.536,.648,.586,.901,.969,.993,.794,.867,.785,.739,.648,.664,
 .616,.538,.884,.897,.941,.982,.716,.768,.837,.850,.681,.599]
reg_dnn_y = [-3.67,-4.18,-4.31,-3.55,-3.35,-3.35,-3.91,-3.40,-3.55,-3.47,-3.47,-3.62,-3.45,-3.45,-2.93,-3.15,-2.85,-3.13,-3.18,-1.57,
 -1.50,-1.40,-1.60,-1.94,-2.34,-2.83,-3.03,-1.45,-1.30,-1.45,-1.11,-1.06,-0.81,-0.71,-0.96,-0.81,-0.66,-0.76,-1.16,-0.12,
 0.03,-0.32,-3.54,-3.08,-3.16,-3.13,-3.40,-3.11,-3.16,-2.83,-3.03,-2.78,-2.63,-2.88,-2.73,-2.88,-0.32,-0.50,-0.52,-0.57,
 -0.57,-0.81,-0.71,-0.65,-0.71,-0.62,-0.81,-0.76,-0.62,-0.66,-0.96,-0.76]

fit_label = "Fit w/ true guess"
dnn_label = "DNN"
fit_color = "#332288"
dnn_color = "orange"

plt.rcParams["font.size"] = 20

fig, (ax1, ax2) = plt.subplots(2, 1, figsize=(9.64, 6.77), dpi=100)
fig.subplots_adjust(left=0.126, right=0.9995, top=0.998, bottom=0.1167, hspace=0.0995)

sns.scatterplot(x=noise + noise_b + dec_fit_x, y=10.0 ** np.array(dec_fit + dec_fit_b + dec_fit_y), ax=ax1,
                color=fit_color, s=105, linewidth=0, alpha=0.98, label=fit_label)
sns.scatterplot(x=noise + noise_b + noise_b + dec_dnn_x, y=10.0 ** np.array(dec_dnn + dec_dnn_b + dec_dnn_c + dec_dnn_y), ax=ax1,
                color=dnn_color, marker="*", s=135, linewidth=0, alpha=0.75, label=dnn_label)

sns.scatterplot(x=noise + noise_b + reg_fit_x, y=10.0 ** np.array(reg_fit + reg_fit_b + reg_fit_y), ax=ax2,
                color=fit_color, s=105, linewidth=0, alpha=0.98, label=fit_label)
sns.scatterplot(x=noise + noise_b + noise + reg_dnn_x, y=10.0 ** np.array(reg_dnn + reg_dnn_b + reg_dnn_c + reg_dnn_y), ax=ax2,
                color=dnn_color, marker="*", s=135, linewidth=0, label=dnn_label)

for ax in (ax1, ax2):
    ax.set_yscale("log")
    ax.set_xlim(-0.0487, 1.045)
    ax.set_yticks([1e0, 1e-2, 1e-4, 1e-6])
    ax.minorticks_off()
    ax.legend(loc="lower right")

# the legend star of the top panel stays light
ax1.get_legend().legend_handles[1].set_alpha(0.5)

ax1.set_ylim(10 ** -7.93, 10 ** 0.386)
ax2.set_ylim(10 ** -7.99, 10 ** 0.384)
ax1.set_xticks([])
ax1.set_ylabel(r"$MSE_{dec}$ [rel.]")
ax2.set_ylabel(r"$MSE_{reg}$ [rel.]")
ax2.set_xlabel("Noise Level [a.u]")

fig.savefig("out.png", dpi=100)
